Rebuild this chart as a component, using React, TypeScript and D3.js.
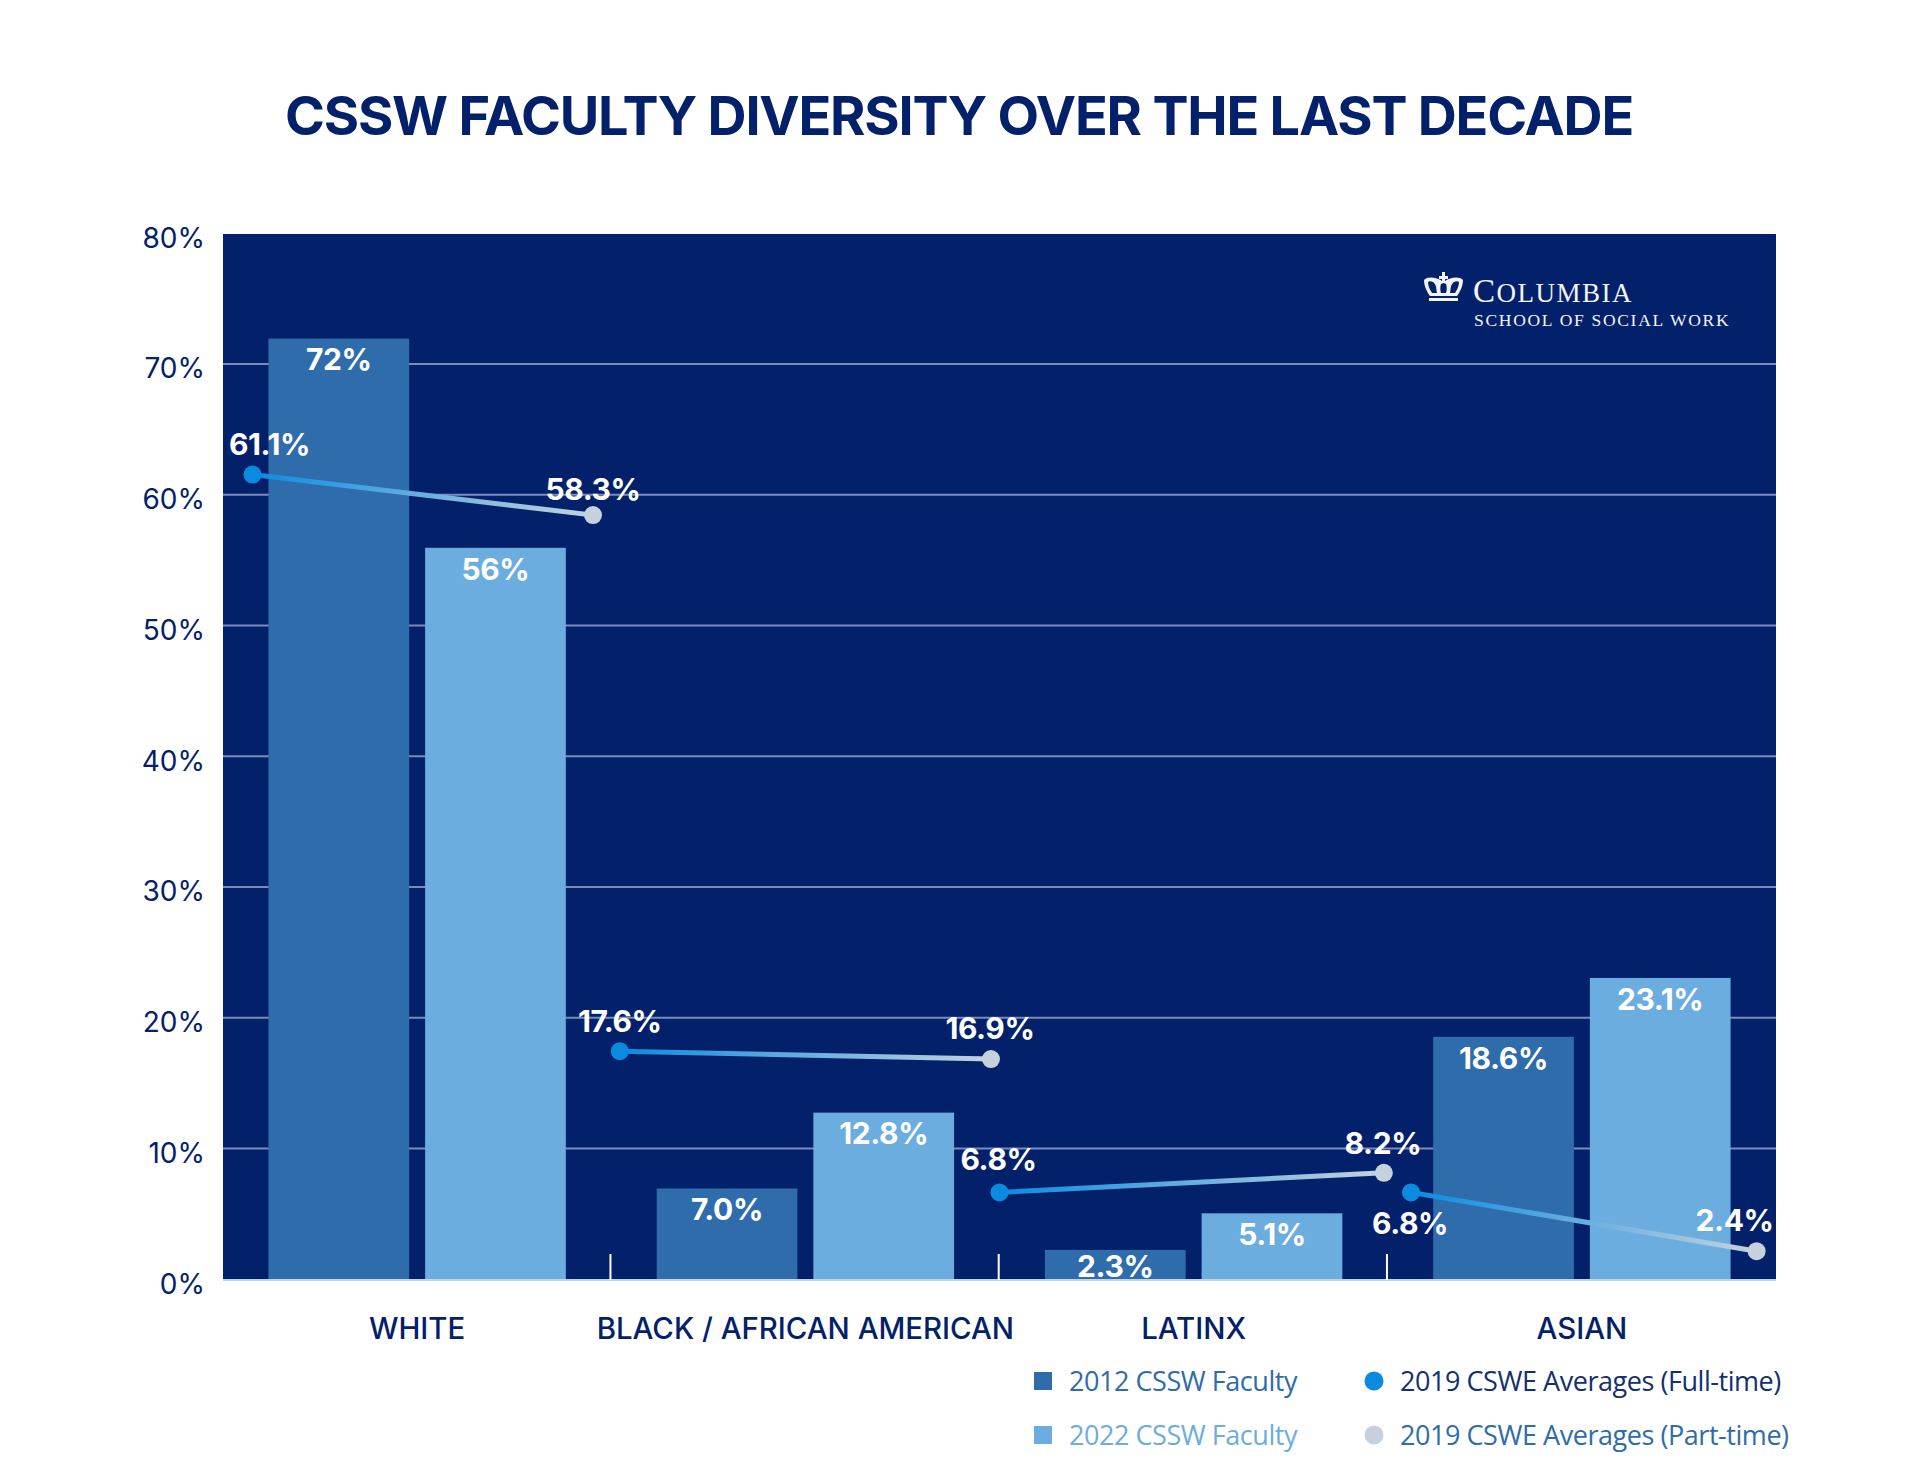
import React, { useEffect, useRef } from "react";
import * as d3 from "d3";

const categories = ["WHITE", "BLACK / AFRICAN AMERICAN", "LATINX", "ASIAN"];
const barSeries = ["2012 CSSW Faculty", "2022 CSSW Faculty"];
const faculty2012 = [72, 7.0, 2.3, 18.6];
const faculty2022 = [56, 12.8, 5.1, 23.1];
const faculty2012Labels = ["72%", "7.0%", "2.3%", "18.6%"];
const faculty2022Labels = ["56%", "12.8%", "5.1%", "23.1%"];

// the dots sit a little off their printed values in the original
const fullTimePlotted = [61.6, 17.5, 6.7, 6.7];
const partTimePlotted = [58.5, 16.9, 8.2, 2.2];
const fullTimeLabels = ["61.1%", "17.6%", "6.8%", "6.8%"];
const partTimeLabels = ["58.3%", "16.9%", "8.2%", "2.4%"];
// where each dot falls along the category axis, in category widths
const fullTimeAt = [0.076, 1.022, 2.0, 3.06];
const partTimeAt = [0.953, 1.978, 2.99, 3.95];

const yTicks = [0, 10, 20, 30, 40, 50, 60, 70, 80];

const NAVY = "#03216a";
const BAR_DARK = "#2e6cac";
const BAR_LIGHT = "#6cade0";
const DOT_FULL = "#0b8be0";
const DOT_PART = "#c5d2de";
const FONT = "Inter, sans-serif";

const W = 1920;
const H = 1483;
const margin = { top: 234, right: 144, bottom: 203, left: 223 };

const App: React.FC = () => {
  const svgRef = useRef<SVGSVGElement | null>(null);

  useEffect(() => {
    if (!svgRef.current) return;
    const svg = d3.select(svgRef.current);
    svg.selectAll("*").remove();

    const left = margin.left;
    const right = W - margin.right;
    const top = margin.top;
    const bottom = H - margin.bottom;

    const x0 = d3.scaleBand<string>().domain(categories).range([left, right]);
    const x1 = d3
      .scaleBand<string>()
      .domain(barSeries)
      .range([0, x0.bandwidth()])
      .paddingInner(0.102)
      .paddingOuter(0.29);
    const xAt = d3.scaleLinear().domain([0, 4]).range([left, right]);
    const y = d3.scaleLinear().domain([0, 80]).range([bottom, top]);

    const defs = svg.append("defs");
    fullTimePlotted.forEach((v, i) => {
      const g = defs
        .append("linearGradient")
        .attr("id", `seg${i}`)
        .attr("gradientUnits", "userSpaceOnUse")
        .attr("x1", xAt(fullTimeAt[i]))
        .attr("y1", y(v))
        .attr("x2", xAt(partTimeAt[i]))
        .attr("y2", y(partTimePlotted[i]));
      g.append("stop").attr("offset", "0%").attr("stop-color", DOT_FULL);
      g.append("stop").attr("offset", "100%").attr("stop-color", DOT_PART);
    });

    svg
      .append("text")
      .attr("x", 959)
      .attr("y", 135)
      .attr("text-anchor", "middle")
      .attr("font-family", FONT)
      .attr("font-size", 54)
      .attr("font-weight", 700)
      .attr("letter-spacing", -1.2)
      .attr("fill", NAVY)
      .text("CSSW FACULTY DIVERSITY OVER THE LAST DECADE");

    svg
      .append("rect")
      .attr("x", left)
      .attr("y", top)
      .attr("width", right - left)
      .attr("height", bottom - top)
      .attr("fill", NAVY);

    // gridlines
    svg
      .append("g")
      .selectAll("line")
      .data(yTicks.filter((t) => t > 0 && t < 80))
      .join("line")
      .attr("x1", left)
      .attr("x2", right)
      .attr("y1", (d) => y(d) - 0.8)
      .attr("y2", (d) => y(d) - 0.8)
      .attr("stroke", "#7a8bbd")
      .attr("stroke-width", 2);

    const yAxis = d3
      .axisLeft(y)
      .tickValues(yTicks)
      .tickSize(0)
      .tickPadding(18)
      .tickFormat((d) => `${d}%`);
    const yG = svg.append("g").attr("transform", `translate(${left},0)`).call(yAxis);
    yG.select(".domain").remove();
    yG.selectAll("text")
      .attr("font-family", FONT)
      .attr("font-size", 28)
      .attr("fill", NAVY)
      .attr("dy", "0.47em");

    // bars
    const barData = categories.flatMap((c, i) => [
      { c, s: barSeries[0], v: faculty2012[i], label: faculty2012Labels[i], fill: BAR_DARK },
      { c, s: barSeries[1], v: faculty2022[i], label: faculty2022Labels[i], fill: BAR_LIGHT },
    ]);
    const bars = svg.append("g");
    bars
      .selectAll("rect")
      .data(barData)
      .join("rect")
      .attr("x", (d) => x0(d.c)! + x1(d.s)!)
      .attr("y", (d) => y(d.v))
      .attr("width", x1.bandwidth())
      .attr("height", (d) => bottom - y(d.v))
      .attr("fill", (d) => d.fill);

    // baseline and category ticks
    svg
      .append("line")
      .attr("x1", left)
      .attr("x2", right)
      .attr("y1", bottom)
      .attr("y2", bottom)
      .attr("stroke", "#b9d6ee")
      .attr("stroke-width", 2);
    svg
      .append("g")
      .selectAll("line")
      .data(categories.slice(1))
      .join("line")
      .attr("x1", (d) => x0(d)! - 0.8)
      .attr("x2", (d) => x0(d)! - 0.8)
      .attr("y1", bottom - 26)
      .attr("y2", bottom)
      .attr("stroke", "#ffffff")
      .attr("stroke-width", 2);

    // bar value labels
    svg
      .append("g")
      .selectAll("text")
      .data(barData)
      .join("text")
      .attr("x", (d) => x0(d.c)! + x1(d.s)! + x1.bandwidth() / 2)
      .attr("y", (d) => Math.min(y(d.v) + 21, bottom - 14))
      .attr("dy", "0.36em")
      .attr("text-anchor", "middle")
      .attr("font-family", FONT)
      .attr("font-size", 30)
      .attr("font-weight", 700)
      .attr("letter-spacing", -0.4)
      .attr("fill", "#ffffff")
      .text((d) => d.label);

    // category labels
    const xAxis = d3.axisBottom(x0).tickSize(0).tickPadding(38);
    const xG = svg.append("g").attr("transform", `translate(0,${bottom})`).call(xAxis);
    xG.select(".domain").remove();
    xG.selectAll("text")
      .attr("font-family", FONT)
      .attr("font-size", 29.4)
      .attr("font-weight", 500)
      .attr("fill", NAVY);

    // CSWE connector lines
    svg
      .append("g")
      .selectAll("line")
      .data(fullTimePlotted)
      .join("line")
      .attr("x1", (_, i) => xAt(fullTimeAt[i]))
      .attr("y1", (d) => y(d))
      .attr("x2", (_, i) => xAt(partTimeAt[i]))
      .attr("y2", (_, i) => y(partTimePlotted[i]))
      .attr("stroke", (_, i) => `url(#seg${i})`)
      .attr("stroke-width", 5);
    svg
      .append("g")
      .selectAll("circle")
      .data(fullTimePlotted)
      .join("circle")
      .attr("cx", (_, i) => xAt(fullTimeAt[i]))
      .attr("cy", (d) => y(d))
      .attr("r", 9)
      .attr("fill", DOT_FULL);
    svg
      .append("g")
      .selectAll("circle")
      .data(partTimePlotted)
      .join("circle")
      .attr("cx", (_, i) => xAt(partTimeAt[i]))
      .attr("cy", (d) => y(d))
      .attr("r", 9)
      .attr("fill", DOT_PART);

    // label offsets from each dot, picked by eye so they clear the lines
    const fullOffsets = [[17, -30], [0, -30], [-1, -33], [-1, 31]];
    const partOffsets = [[0, -26], [-1, -31], [-1, -30], [-22, -31]];
    const dotLabels = (
      values: number[],
      at: number[],
      labels: string[],
      offsets: number[][]
    ) =>
      svg
        .append("g")
        .selectAll("text")
        .data(values)
        .join("text")
        .attr("x", (_, i) => xAt(at[i]) + offsets[i][0])
        .attr("y", (d, i) => y(d) + offsets[i][1])
        .attr("dy", "0.36em")
        .attr("text-anchor", "middle")
        .attr("font-family", FONT)
        .attr("font-size", 30)
        .attr("font-weight", 700)
        .attr("letter-spacing", -0.4)
        .attr("fill", "#ffffff")
        .text((_, i) => labels[i]);
    dotLabels(fullTimePlotted, fullTimeAt, fullTimeLabels, fullOffsets);
    dotLabels(partTimePlotted, partTimeAt, partTimeLabels, partOffsets);

    // logo
    const logo = svg.append("g").attr("fill", "#f2f4f9");
    logo
      .append("path")
      .attr("transform", "translate(1424,272)")
      .attr(
        "d",
        "M18 0 L21 0 L21 4 L24 4 L24 7 L21 7 L21 9 C26 5 36 4 39 8 C39 14 36 20 33 24 L6 24 C3 20 0 14 0 8 C3 4 13 5 18 9 L18 7 L15 7 L15 4 L18 4 Z M4 10 C4 14 6 18 8 21 L13 21 C12 17 13 13 9 10 C7 9 5 9 4 10 Z M35 10 C34 9 32 9 30 10 C26 13 27 17 26 21 L31 21 C33 18 35 14 35 10 Z M17 12 C16 15 16 18 17 21 L22 21 C23 18 23 15 22 12 L19.5 11 Z M5 26 L34 26 L34 29 L5 29 Z"
      )
      .attr("fill-rule", "evenodd");
    const columbia = logo
      .append("text")
      .attr("x", 1473)
      .attr("y", 302)
      .attr("font-family", "'Liberation Serif', serif")
      .attr("font-size", 27);
    columbia.append("tspan").attr("font-size", 33).attr("letter-spacing", 1.5).text("C");
    columbia.append("tspan").attr("letter-spacing", 1.5).text("OLUMBIA");
    logo
      .append("text")
      .attr("x", 1474)
      .attr("y", 326)
      .attr("font-family", "'Liberation Serif', serif")
      .attr("font-size", 17.5)
      .attr("letter-spacing", 1.7)
      .text("SCHOOL OF SOCIAL WORK");

    // legend
    const legend = [
      { kind: "rect", x: 1034, y: 1381, fill: BAR_DARK, text: barSeries[0], color: BAR_DARK },
      { kind: "rect", x: 1034, y: 1435, fill: BAR_LIGHT, text: barSeries[1], color: BAR_LIGHT },
      { kind: "dot", x: 1365, y: 1381, fill: DOT_FULL, text: "2019 CSWE Averages (Full-time)", color: "#14306f" },
      { kind: "dot", x: 1365, y: 1435, fill: DOT_PART, text: "2019 CSWE Averages (Part-time)", color: BAR_DARK },
    ];
    const lg = svg.append("g");
    legend.forEach((d) => {
      if (d.kind === "rect") {
        lg.append("rect")
          .attr("x", d.x)
          .attr("y", d.y - 9)
          .attr("width", 18)
          .attr("height", 18)
          .attr("fill", d.fill);
      } else {
        lg.append("circle")
          .attr("cx", d.x + 9)
          .attr("cy", d.y)
          .attr("r", 9.5)
          .attr("fill", d.fill);
      }
      lg.append("text")
        .attr("x", d.x + 35)
        .attr("y", d.y)
        .attr("dy", "0.36em")
        .attr("font-family", "'Open Sans', sans-serif")
        .attr("font-size", 27)
        .attr("letter-spacing", -0.45)
        .attr("fill", d.color)
        .text(d.text);
    });
  }, []);

  return (
    <svg
      ref={svgRef}
      width={W}
      height={H}
      style={{ position: "absolute", left: 0, top: 0, display: "block", background: "#ffffff" }}
    />
  );
};

export default App;
